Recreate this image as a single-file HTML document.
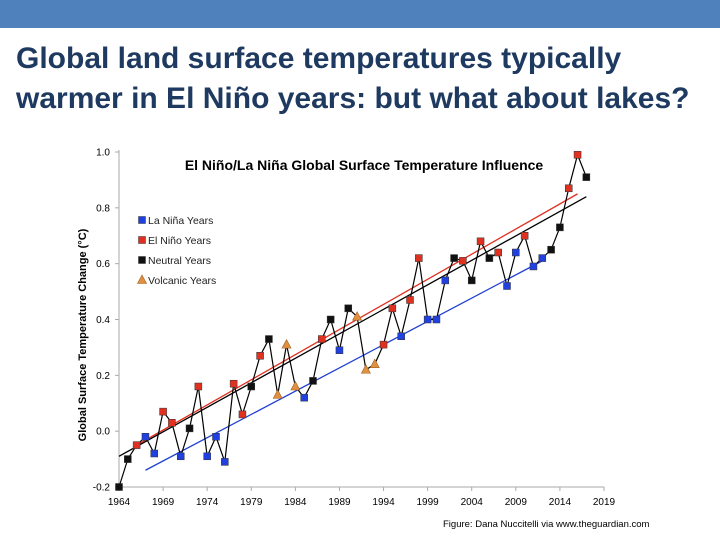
<!DOCTYPE html>
<html><head><meta charset="utf-8"><style>
body{margin:0;width:720px;height:540px;overflow:hidden;background:#fff;font-family:"Liberation Sans",Arial,sans-serif;position:relative}
#bar{position:absolute;left:0;top:0;width:720px;height:28px;background:#4f81bd}
#title{position:absolute;left:16px;top:39px;font-size:30px;line-height:40px;color:#1f3a60;margin:0;font-weight:bold;white-space:nowrap}
#foot{position:absolute;left:443px;top:519px;font-size:9.5px;color:#000}
svg{position:absolute;left:0;top:0}
</style></head><body>
<div id="bar"></div>
<h1 id="title">Global land surface temperatures typically<br>warmer in El Niño years: but what about lakes?</h1>
<svg id="chart" width="720" height="540"></svg>
<div id="foot">Figure: Dana Nuccitelli via www.theguardian.com</div>
<script>
const years=[1964,1965,1966,1967,1968,1969,1970,1971,1972,1973,1974,1975,1976,1977,1978,1979,1980,1981,1982,1983,1984,1985,1986,1987,1988,1989,1990,1991,1992,1993,1994,1995,1996,1997,1998,1999,2000,2001,2002,2003,2004,2005,2006,2007,2008,2009,2010,2011,2012,2013,2014,2015,2016,2017];
const temps=[-0.20,-0.10,-0.05,-0.02,-0.08,0.07,0.03,-0.09,0.01,0.16,-0.09,-0.02,-0.11,0.17,0.06,0.16,0.27,0.33,0.13,0.31,0.16,0.12,0.18,0.33,0.40,0.29,0.44,0.41,0.22,0.24,0.31,0.44,0.34,0.47,0.62,0.40,0.40,0.54,0.62,0.61,0.54,0.68,0.62,0.64,0.52,0.64,0.70,0.59,0.62,0.65,0.73,0.87,0.99,0.91];
const types="NNELLEELNELLLEENENVVVLNENLNVVVEELEELLLNENENELLELLNNEEN";
const yTicks=[-0.2,0.0,0.2,0.4,0.6,0.8,1.0];
const xTicks=[1964,1969,1974,1979,1984,1989,1994,1999,2004,2009,2014,2019];
const trendRed=[[1966,-0.05],[2016,0.85]];
const trendBlack=[[1964,-0.09],[2017,0.84]];
const trendBlue=[[1967,-0.14],[2012,0.61]];
const X=y=>119+(y-1964)*(485/55);
const Y=v=>487-(v+0.2)*(335/1.2);
const svg=document.getElementById('chart');const NS='http://www.w3.org/2000/svg';
function mk(t,a,p){const e=document.createElementNS(NS,t);for(const k in a)e.setAttribute(k,a[k]);(p||svg).appendChild(e);return e;}
let e;
e=mk('line',{x1:119,y1:150,x2:119,y2:487,stroke:'#aaa'});
e=mk('line',{x1:119,y1:487,x2:604,y2:487,stroke:'#aaa'});
yTicks.forEach(v=>{mk('line',{x1:115,y1:Y(v),x2:119,y2:Y(v),stroke:'#aaa'});
 e=mk('text',{x:110,y:Y(v)+3.5,'text-anchor':'end','font-size':10,fill:'#000'});e.textContent=v.toFixed(1);
 });
xTicks.forEach(v=>{mk('line',{x1:X(v),y1:487,x2:X(v),y2:491,stroke:'#aaa'});
 e=mk('text',{x:X(v),y:505,'text-anchor':'middle','font-size':10,fill:'#000'});e.textContent=v;
 });
e=mk('text',{x:0,y:0,transform:'translate(86,335) rotate(-90)','text-anchor':'middle','font-size':11,'font-weight':'bold'});e.textContent='Global Surface Temperature Change (°C)';

e=mk('text',{x:364,y:170,'text-anchor':'middle','font-size':14,'font-weight':'bold'});e.textContent='El Niño/La Niña Global Surface Temperature Influence';

[[trendRed,'#e03020','trend-el-nino'],[trendBlack,'#000','trend-neutral'],[trendBlue,'#2040d0','trend-la-nina']].forEach(([t,c,n])=>{
 e=mk('line',{x1:X(t[0][0]),y1:Y(t[0][1]),x2:X(t[1][0]),y2:Y(t[1][1]),stroke:c,'stroke-width':1.3});
 });
e=mk('polyline',{points:years.map((y,i)=>X(y)+','+Y(temps[i])).join(' '),fill:'none',stroke:'#000','stroke-width':1.2});

const col={L:'#2040e0',E:'#e03020',N:'#111',V:'#e09040'};
function marker(t,x,y,name){let m;
 if(t==='V'){m=mk('polygon',{points:`${x},${y-5} ${x-4.5},${y+3.5} ${x+4.5},${y+3.5}`,fill:col.V,stroke:'#a06020','stroke-width':0.6});}
 else{m=mk('rect',{x:x-3.5,y:y-3.5,width:7,height:7,fill:col[t],stroke:'#333','stroke-width':0.5});}
 }
years.forEach((y,i)=>marker(types[i],X(y),Y(temps[i]),'point-'+y));
const legend=[['L','La Niña Years'],['E','El Niño Years'],['N','Neutral Years'],['V','Volcanic Years']];
legend.forEach((l,i)=>{const yy=220+i*20;marker(l[0],142,yy,'legend-marker');
 e=mk('text',{x:148,y:yy+4,'font-size':10.5,fill:'#222'});e.textContent=l[1];
 });
</script>
</body></html>
